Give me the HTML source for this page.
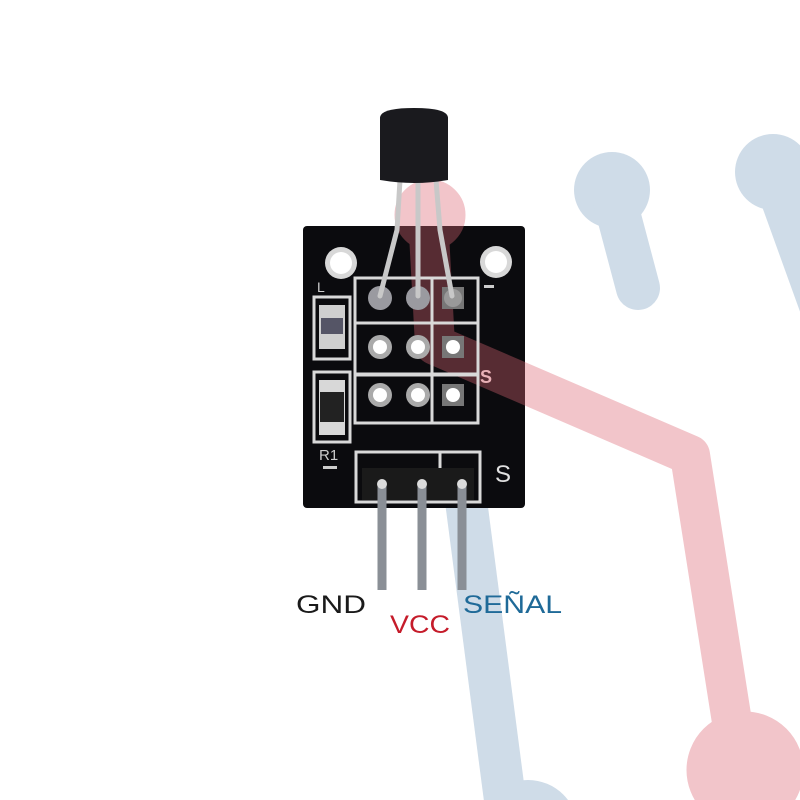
<!DOCTYPE html>
<html><head><style>html,body{margin:0;padding:0;background:#fff;overflow:hidden;width:800px;height:800px}svg{display:block}</style></head>
<body>
<svg width="800" height="800" viewBox="0 0 800 800" xmlns="http://www.w3.org/2000/svg">
<defs>
<clipPath id="bc"><rect x="303" y="226" width="222" height="282" rx="4"/></clipPath>
<g id="red">
<circle cx="430" cy="215" r="35"/>
<polyline points="428,215 435,345 690,455 738,760" fill="none" stroke-width="40" stroke-linejoin="round" stroke-linecap="round"/>
<circle cx="745" cy="770" r="58"/>
</g>
</defs>
<g fill="#cfdce8" stroke="#cfdce8">
<circle cx="612" cy="190" r="38" stroke="none"/>
<line x1="612" y1="190" x2="638" y2="288" stroke-width="44" stroke-linecap="round"/>
<circle cx="773" cy="172" r="38" stroke="none"/>
<line x1="773" y1="172" x2="830" y2="330" stroke-width="44"/>
<line x1="462" y1="470" x2="505" y2="800" stroke-width="42"/>
<circle cx="528" cy="830" r="50" stroke="none"/>
</g>
<use href="#red" fill="#f2c5ca" stroke="#f2c5ca"/>
<rect x="303" y="226" width="222" height="282" rx="4" fill="#0b0b0e"/>
<g clip-path="url(#bc)" opacity="0.35"><use href="#red" fill="#e46a78" stroke="#e46a78"/></g>
<circle cx="341" cy="263" r="16" fill="#d8d8d8"/><circle cx="341" cy="263" r="11" fill="#fff"/>
<circle cx="496" cy="262" r="16" fill="#d8d8d8"/><circle cx="496" cy="262" r="11" fill="#fff"/>
<g fill="none" stroke="#d9d9d9" stroke-width="3">
<rect x="355" y="278" width="123" height="96"/>
<line x1="355" y1="323" x2="478" y2="323"/>
<line x1="432" y1="278" x2="432" y2="374"/>
<rect x="355" y="375" width="123" height="48"/>
<line x1="432" y1="375" x2="432" y2="423"/>
<rect x="314" y="297" width="36" height="62"/>
<rect x="314" y="372" width="36" height="70"/>
<rect x="356" y="452" width="124" height="50"/>
<line x1="440" y1="452" x2="440" y2="470"/>
</g>
<g fill="#fff" font-family="Liberation Sans, sans-serif">
<text x="317" y="292" font-size="14" fill="#ccc">L</text>
<text x="319" y="460" font-size="15" fill="#ccc">R1</text>
<text x="480" y="383" font-size="18" font-weight="bold" fill="#e8b0b6">S</text>
<text x="495" y="482" font-size="24" fill="#e0e0e0">S</text>
</g>
<rect x="319" y="305" width="26" height="44" fill="#cfcfcf"/><rect x="321" y="318" width="22" height="16" fill="#556"/>
<rect x="319" y="380" width="26" height="55" fill="#d8d8d8"/><rect x="320" y="392" width="24" height="30" fill="#222"/>
<rect x="323" y="466" width="14" height="3" fill="#ccc"/>
<rect x="484" y="285" width="10" height="3" fill="#ccc"/>
<g>
<circle cx="380" cy="298" r="12" fill="#9a9aa0"/><circle cx="418" cy="298" r="12" fill="#9a9aa0"/><rect x="442" y="287" width="22" height="22" fill="#777"/><circle cx="453" cy="298" r="9" fill="#999"/>
<circle cx="380" cy="347" r="12" fill="#aaa"/><circle cx="380" cy="347" r="7" fill="#fff"/>
<circle cx="418" cy="347" r="12" fill="#aaa"/><circle cx="418" cy="347" r="7" fill="#fff"/>
<rect x="442" y="336" width="22" height="22" fill="#777"/><circle cx="453" cy="347" r="7" fill="#fff"/>
<circle cx="380" cy="395" r="12" fill="#aaa"/><circle cx="380" cy="395" r="7" fill="#fff"/>
<circle cx="418" cy="395" r="12" fill="#aaa"/><circle cx="418" cy="395" r="7" fill="#fff"/>
<rect x="442" y="384" width="22" height="22" fill="#777"/><circle cx="453" cy="395" r="7" fill="#fff"/>
</g>
<g stroke="#c8c8c8" stroke-width="5" fill="none" stroke-linecap="round">
<polyline points="400,180 397,230 380,296"/>
<polyline points="418,180 418,296"/>
<polyline points="436,180 440,230 452,296"/>
</g>
<path d="M380,118 Q380,108 414,108 Q448,108 448,118 L448,180 Q414,186 380,180 Z" fill="#1a1a1e"/>
<rect x="362" y="468" width="112" height="32" fill="#1a1a1a"/>
<g stroke="#8a8f96" stroke-width="9" fill="none">
<line x1="382" y1="482" x2="382" y2="590"/>
<line x1="422" y1="482" x2="422" y2="590"/>
<line x1="462" y1="482" x2="462" y2="590"/>
</g>
<g fill="#dcdcdc"><circle cx="382" cy="484" r="5"/><circle cx="422" cy="484" r="5"/><circle cx="462" cy="484" r="5"/></g>
<g font-family="Liberation Sans, sans-serif" font-size="25">
<text x="296" y="613" fill="#1a1a1a" textLength="70" lengthAdjust="spacingAndGlyphs">GND</text>
<text x="390" y="633" fill="#c51b2a" textLength="60" lengthAdjust="spacingAndGlyphs">VCC</text>
<text x="463" y="613" fill="#1f6a98" textLength="99" lengthAdjust="spacingAndGlyphs">SEÑAL</text>
</g>
</svg>
</body></html>
